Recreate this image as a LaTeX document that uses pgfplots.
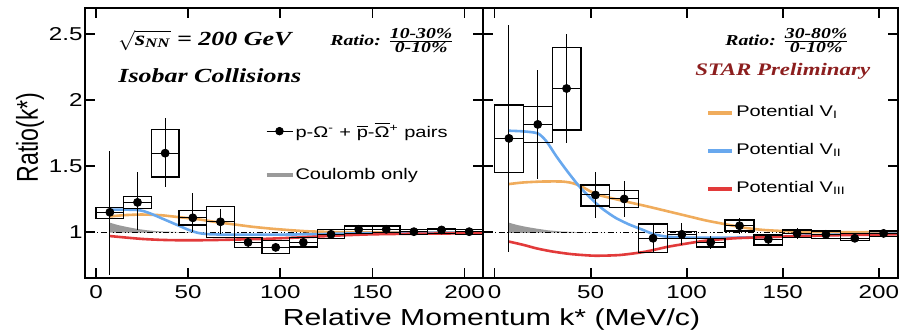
\documentclass[border=0pt]{standalone}
\usepackage{pgfplots}
\pgfplotsset{compat=1.18}
\usepackage{pgfplotstable}
\usepackage{graphicx}
\usepackage{fontspec}
\setmainfont{Liberation Sans}[FakeStretch=1.3]
\newfontfamily\tms{Liberation Serif}[FakeStretch=1.3]
\newfontfamily\plainsans{Liberation Sans}
\definecolor{corange}{HTML}{F0AC5C}
\definecolor{cblue}{HTML}{68A8EE}
\definecolor{cred}{HTML}{E23A3A}
\definecolor{cstar}{HTML}{8C1E1E}
\definecolor{cgray}{HTML}{9A9A9A}
\newcommand\ticks{\fontsize{9.3}{10}\selectfont}
\newcommand\labfont{\fontsize{11.6}{13}\selectfont}
\newcommand\legfont{\fontsize{7.7}{9}\selectfont}

% x y stat+ stat- sys_low sys_high
\pgfplotstableread{
x y ep em slo shi
7.5 1.152 0.468 0.475 1.106 1.19
22.5 1.227 0.228 0.207 1.18 1.27
37.5 1.60 0.27 0.26 1.42 1.78
52.5 1.11 0.19 0.11 1.056 1.164
67.5 1.08 0.094 0.09 0.962 1.194
82.5 0.924 0.04 0.04 0.886 0.962
97.5 0.886 0.03 0.03 0.84 0.937
112.5 0.924 0.03 0.03 0.89 0.962
127.5 0.985 0.03 0.03 0.955 1.023
142.5 1.023 0.02 0.02 0.99 1.048
157.5 1.023 0.02 0.02 0.997 1.048
172.5 1.005 0.015 0.015 0.985 1.02
187.5 1.018 0.015 0.015 0.99 1.03
202.5 1.005 0.015 0.015 0.985 1.02
}\datal

\pgfplotstableread{
x y ep em slo shi
7.5 1.712 0.858 0.858 1.452 1.965
22.5 1.818 0.412 0.414 1.68 1.952
37.5 2.09 0.41 0.41 1.775 2.40
52.5 1.283 0.177 0.177 1.20 1.358
67.5 1.253 0.136 0.139 1.187 1.316
82.5 0.955 0.113 0.101 0.849 1.063
97.5 0.985 0.083 0.081 0.955 1.005
112.5 0.924 0.05 0.05 0.89 0.955
127.5 1.05 0.056 0.06 1.01 1.093
142.5 0.947 0.04 0.04 0.904 0.98
157.5 0.992 0.04 0.04 0.962 1.018
172.5 0.985 0.035 0.035 0.955 1.01
187.5 0.955 0.03 0.03 0.937 0.99
202.5 0.992 0.03 0.03 0.967 1.01
}\datar

\pgfplotsset{
 panel/.style={
  scale only axis, anchor=south west, height=135pt,
  xmin=-6, xmax=210, ymin=0.654, ymax=2.70,
  xtick={0,50,100,150,200}, ytick={1,1.5,2,2.5},
  tick align=inside, major tick length=5pt,
  axis line style={line width=1pt},
  every tick/.style={black, line width=0.9pt},
  /pgf/number format/assume math mode=true,
  ticklabel style={font=\ticks},
  yticklabel style={inner xsep=1pt},
  legend cell align=left,
 },
 sysv/.style={draw=none, no markers, forget plot,
  error bars/.cd, y dir=both, y explicit, error mark=none,
  error bar style={draw=black, line width=0.65pt, line cap=rect}},
 sysh/.style={draw=none, no markers, forget plot,
  error bars/.cd, x dir=both, x fixed=7.5, error mark=none,
  error bar style={draw=black, line width=0.65pt, line cap=rect}},
 pts/.style={black, only marks, mark=*, mark size=2pt, mark options={fill=black},
  legend image code/.code={\draw[black, line width=0.5pt] (0pt,0pt) -- (13pt,0pt); \fill[black] (6.5pt,0pt) circle (1.9pt);},
  error bars/.cd, x dir=both, x fixed=7.5, y dir=both, y explicit, error mark=none,
  error bar style={black, line width=0.5pt}},
 curve/.style={line width=1.3pt, smooth, tension=0.4},
 dashone/.style={black, line width=0.4pt, dash pattern=on 3pt off 1.2pt on 0.6pt off 1.2pt on 0.6pt off 1.2pt, forget plot},
}

\begin{document}
\begin{tikzpicture}
\useasboundingbox (0,0) rectangle (455pt,166.5pt);

% ---------------- left panel ----------------
\begin{axis}[panel, at={(42.5pt,27.5pt)}, width=199pt,
  reverse legend,
  legend style={at={(0.45,0.593)}, anchor=north west, draw=none, fill=none,
   inner sep=0pt, row sep=9.9pt, column sep=-1.5pt, font=\legfont}]
\addplot[fill=cgray, draw=none,
  legend image code/.code={\draw[cgray, line width=2pt] (0pt,0pt) -- (13pt,0pt);}]
  coordinates {(7.5,1.073)(12,1.055)(17,1.04)(22,1.027)(28,1.015)(35,1.007)(45,1.002)(60,1.0)(7.5,0.998)};
\addlegendentry{Coulomb only}
\addplot[dashone] coordinates {(-6,1)(210,1)};
\addplot[curve, corange, forget plot] coordinates {(7.5,1.12)(15,1.13)(25,1.135)(35,1.13)(45,1.115)(55,1.10)(65,1.078)(75,1.06)(85,1.042)(95,1.028)(105,1.017)(115,1.008)(130,1.002)(150,1.0)(210,1.0)};
\addplot[curve, cblue, forget plot] coordinates {(7.5,1.172)(15,1.172)(22,1.17)(26,1.16)(30,1.14)(35,1.11)(40,1.08)(45,1.05)(50,1.02)(55,0.997)(60,0.987)(70,0.983)(100,0.983)(120,0.986)(140,0.992)(170,0.996)(210,0.998)};
\addplot[curve, cred, forget plot] coordinates {(7.5,0.972)(15,0.962)(25,0.95)(35,0.943)(45,0.94)(55,0.94)(65,0.942)(75,0.945)(90,0.95)(105,0.958)(120,0.968)(135,0.978)(150,0.985)(175,0.99)(210,0.993)};
\addplot[sysv] table[x expr=\thisrow{x}-7.5, y expr=(\thisrow{slo}+\thisrow{shi})/2, y error expr=(\thisrow{shi}-\thisrow{slo})/2]{\datal};
\addplot[sysv] table[x expr=\thisrow{x}+7.5, y expr=(\thisrow{slo}+\thisrow{shi})/2, y error expr=(\thisrow{shi}-\thisrow{slo})/2]{\datal};
\addplot[sysh] table[x=x, y=slo]{\datal};
\addplot[sysh] table[x=x, y=shi]{\datal};
\addplot[pts] table[x=x, y=y, y error plus=ep, y error minus=em]{\datal};
\addlegendentry{p-Ω\textsuperscript{-} + $\overline{\mbox{p}}$-$\overline{\mbox{Ω}}$\textsuperscript{+} pairs}
\end{axis}

% ---------------- right panel ----------------
\begin{axis}[panel, at={(241.5pt,27.5pt)}, width=207.5pt,
  yticklabels={},
  legend style={at={(0.537,0.655)}, anchor=north west, draw=none, fill=none,
   inner sep=0pt, row sep=7.95pt, column sep=-1pt, font=\legfont}]
\addplot[fill=cgray, draw=none, forget plot]
  coordinates {(7.5,1.073)(12,1.055)(17,1.04)(22,1.028)(28,1.015)(35,1.006)(45,1.001)(60,1.0)(7.5,0.996)};
\addplot[dashone] coordinates {(-6,1)(210,1)};
\addplot[curve, corange, legend image code/.code={\draw[corange, line width=2pt] (0pt,0pt) -- (12pt,0pt);}]
  coordinates {(7.5,1.366)(15,1.378)(25,1.385)(35,1.385)(40,1.375)(45,1.35)(50,1.31)(55,1.28)(62,1.255)(70,1.228)(80,1.195)(90,1.16)(100,1.125)(110,1.09)(120,1.062)(130,1.035)(140,1.018)(155,1.007)(170,1.002)(210,1.0)};
\addlegendentry{Potential V\textsubscript{I}}
\addplot[curve, cblue, legend image code/.code={\draw[cblue, line width=2pt] (0pt,0pt) -- (12pt,0pt);}]
  coordinates {(7.5,1.77)(15,1.765)(22.5,1.75)(27,1.69)(32,1.58)(37.5,1.47)(44,1.35)(50,1.26)(56,1.18)(63,1.11)(70,1.06)(77,1.02)(83,0.985)(90,0.967)(100,0.96)(120,0.96)(140,0.963)(160,0.975)(185,0.985)(210,0.99)};
\addlegendentry{Potential V\textsubscript{II}}
\addplot[curve, cred, legend image code/.code={\draw[cred, line width=2pt] (0pt,0pt) -- (12pt,0pt);}]
  coordinates {(7.5,0.93)(15,0.905)(22,0.878)(30,0.855)(40,0.835)(52,0.823)(65,0.828)(78,0.852)(90,0.89)(100,0.915)(110,0.937)(125,0.955)(140,0.963)(160,0.972)(185,0.98)(210,0.985)};
\addlegendentry{Potential V\textsubscript{III}}
\addplot[sysv] table[x expr=\thisrow{x}-7.5, y expr=(\thisrow{slo}+\thisrow{shi})/2, y error expr=(\thisrow{shi}-\thisrow{slo})/2]{\datar};
\addplot[sysv] table[x expr=\thisrow{x}+7.5, y expr=(\thisrow{slo}+\thisrow{shi})/2, y error expr=(\thisrow{shi}-\thisrow{slo})/2]{\datar};
\addplot[sysh] table[x=x, y=slo]{\datar};
\addplot[sysh] table[x=x, y=shi]{\datar};
\addplot[forget plot, pts] table[x=x, y=y, y error plus=ep, y error minus=em]{\datar};
\end{axis}

% ---------------- text ----------------
\begin{scope}[yshift=166.5pt, x=0.5pt, y=-0.5pt]
\node[anchor=base west, inner sep=0pt, font=\tms\bfseries\itshape\fontsize{10}{12}\selectfont] at (118,45)
  {$\sqrt{\mbox{s}_{\mbox{\fontsize{6.5}{7}\selectfont NN}}}$ = 200 GeV};
\node[anchor=base west, inner sep=0pt, font=\tms\bfseries\itshape\fontsize{10}{12}\selectfont] at (118,82)
  {Isobar Collisions};
\node[anchor=base west, inner sep=0pt, font=\tms\bfseries\itshape\fontsize{7.6}{9}\selectfont] at (330,45)
  {Ratio: $\frac{\mbox{10-30\%}}{\mbox{0-10\%}}$};
\node[anchor=base west, inner sep=0pt, font=\tms\bfseries\itshape\fontsize{7.6}{9}\selectfont] at (725,45)
  {Ratio: $\frac{\mbox{30-80\%}}{\mbox{0-10\%}}$};
\node[anchor=base west, inner sep=0pt, text=cstar, font=\tms\bfseries\itshape\fontsize{8.8}{10}\selectfont] at (695,76)
  {STAR Preliminary};
\node[anchor=base, inner sep=0pt, font=\labfont] at (491.5,325) {Relative Momentum k* (MeV/c)};
\node[rotate=90, anchor=center, inner sep=0pt] at (30,137.5) {\scalebox{1}[1.3]{\plainsans\labfont Ratio(k*)}};
\end{scope}
\end{tikzpicture}
\end{document}
